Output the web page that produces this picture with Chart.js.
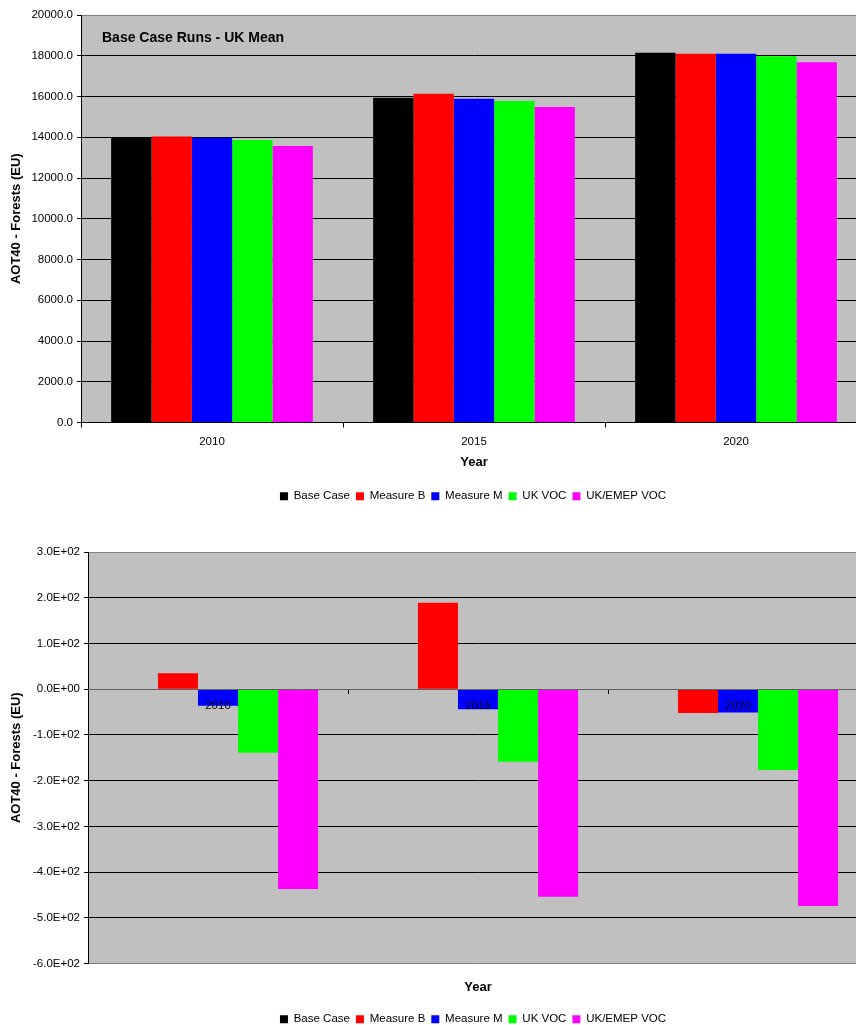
<!DOCTYPE html>
<html>
<head>
<meta charset="utf-8">
<script src="https://cdn.jsdelivr.net/npm/chart.js@4/dist/chart.umd.min.js"></script>
<style>
    html, body { margin: 0; padding: 0; background: #fff; overflow: hidden; width: 856px; height: 1025px; }
    .box { position: absolute; left: 0; width: 946px; }
    #top { top: 0; height: 512px; }
    #bottom { top: 530px; height: 505px; }
</style>
</head>
<body>
<div class="box" id="top"><canvas id="meanChart"></canvas></div>
<div class="box" id="bottom"><canvas id="diffChart"></canvas></div>
<script>
const years = ['2010', '2015', '2020'];
const seriesNames = ['Base Case', 'Measure B', 'Measure M', 'UK VOC', 'UK/EMEP VOC'];
const seriesColors = ['#000000', '#ff0000', '#0000ff', '#00ff00', '#ff00ff'];

// AOT40 UK mean
const baseCase = [14000, 15940, 18150];
const measureB = [14040, 16130, 18100];
const measureM = [13970, 15890, 18100];
const ukVoc = [13860, 15785, 17980];
const ukEmepVoc = [13570, 15490, 17680];

// differences from base case
const diffBase = [0, 0, 0];
const diffMeasureB = [35, 189, -52];
const diffMeasureM = [-36, -44, -51];
const diffUkVoc = [-139, -159, -177];
const diffUkEmepVoc = [-437, -454, -474];

const chartTitle = 'Base Case Runs - UK Mean';
const yTitle = 'AOT40 - Forests (EU)';
const xTitle = 'Year';

const FONT = '"Liberation Sans", Arial, sans-serif';

const plotBackground = {
    id: 'plotBackground',
    beforeDraw(chart) {
        const a = chart.chartArea;
        chart.ctx.save();
        chart.ctx.fillStyle = '#c0c0c0';
        chart.ctx.fillRect(a.left, a.top, a.right - a.left, a.bottom - a.top);
        chart.ctx.restore();
    }
};

const innerTitle = {
    id: 'innerTitle',
    afterDatasetsDraw(chart, args, opts) {
        if (!opts.text) return;
        const ctx = chart.ctx;
        ctx.save();
        ctx.font = 'bold 14px ' + FONT;
        ctx.fillStyle = '#000';
        ctx.textBaseline = 'middle';
        ctx.fillText(opts.text, chart.chartArea.left + 21, chart.chartArea.top + 23);
        ctx.restore();
    }
};

function makeDatasets(rows) {
    return rows.map((data, i) => ({
        label: seriesNames[i],
        data: data,
        backgroundColor: seriesColors[i],
        borderWidth: 0,
        categoryPercentage: 0.77,
        barPercentage: 1.0,
        xAxisID: 'x',
        yAxisID: 'y'
    }));
}

function sciLabel(v) {
    const parts = Number(v).toExponential(1).split('e');
    let exp = parseInt(parts[1], 10);
    const sign = exp < 0 ? '-' : '+';
    exp = Math.abs(exp);
    return parts[0] + 'E' + sign + (exp < 10 ? '0' + exp : exp);
}

// empty right-hand axis: keeps space to the right of the plot like the original sheet
function spacerAxis(w) {
    return {
        position: 'right',
        grid: { display: false },
        border: { display: false },
        ticks: { display: false },
        afterFit(scale) { scale.width = w; }
    };
}

const legendOpts = {
    position: 'bottom',
    labels: {
        color: '#000',
        boxWidth: 8,
        boxHeight: 8,
        padding: 6,
        font: { size: 11.5, family: FONT }
    }
};

new Chart(document.getElementById('meanChart'), {
    type: 'bar',
    data: {
        labels: years,
        datasets: makeDatasets([baseCase, measureB, measureM, ukVoc, ukEmepVoc])
    },
    plugins: [plotBackground, innerTitle],
    options: {
        responsive: true,
        maintainAspectRatio: false,
        animation: false,
        layout: { padding: { top: 15, right: 0, left: 0, bottom: 0 } },
        plugins: {
            legend: legendOpts,
            tooltip: { enabled: false },
            innerTitle: { text: chartTitle }
        },
        scales: {
            x: {
                grid: { offset: true, drawOnChartArea: false, tickLength: 5, color: '#000' },
                border: { color: '#000', width: 1 },
                ticks: { color: '#000', padding: 7, maxRotation: 0, font: { size: 11.5, family: FONT } },
                title: { display: true, text: xTitle, color: '#000', padding: { top: 0, bottom: 14 }, font: { size: 13, weight: 'bold', family: FONT } },
                afterFit(scale) { scale.height = 62; }
            },
            y: {
                min: 0,
                max: 20000,
                ticks: {
                    stepSize: 2000,
                    color: '#000',
                    padding: 4,
                    font: { size: 11.5, family: FONT },
                    callback: function(value) { return value.toFixed(1); }
                },
                grid: {
                    color: (c) => c.tick && c.tick.value === 20000 ? '#808080' : '#000',
                    tickColor: '#000',
                    tickLength: 4
                },
                border: { color: '#000', width: 1 },
                title: { display: true, text: yTitle, color: '#000', padding: { top: 9, bottom: 0 }, font: { size: 13, weight: 'bold', family: FONT } },
                afterFit(scale) { scale.width = 81; }
            },
            yRight: spacerAxis(79)
        }
    }
});

new Chart(document.getElementById('diffChart'), {
    type: 'bar',
    data: {
        labels: years,
        datasets: makeDatasets([diffBase, diffMeasureB, diffMeasureM, diffUkVoc, diffUkEmepVoc])
    },
    plugins: [plotBackground],
    options: {
        responsive: true,
        maintainAspectRatio: false,
        animation: false,
        layout: { padding: { top: 22, right: 0, left: 0, bottom: 0 } },
        plugins: {
            legend: legendOpts,
            tooltip: { enabled: false }
        },
        scales: {
            x: {
                position: { y: 0 },
                grid: { offset: true, drawOnChartArea: false, tickLength: 4, color: '#000' },
                border: { color: '#606060', width: 1, z: 1 },
                ticks: { color: '#000', padding: 6, z: 1, maxRotation: 0, font: { size: 11.5, family: FONT } }
            },
            x2: {
                type: 'category',
                position: 'bottom',
                grid: { display: false },
                border: { display: false },
                ticks: { display: false },
                title: { display: true, text: xTitle, color: '#000', padding: { top: 0, bottom: 12 }, font: { size: 13, weight: 'bold', family: FONT } },
                afterFit(scale) { scale.height = 44; }
            },
            y: {
                min: -600,
                max: 300,
                ticks: {
                    stepSize: 100,
                    color: '#000',
                    padding: 4,
                    font: { size: 11.5, family: FONT },
                    callback: function(value) { return sciLabel(value); }
                },
                grid: {
                    color: (c) => {
                        if (!c.tick) return '#000';
                        if (c.tick.value === 300 || c.tick.value === -600) return '#808080';
                        if (c.tick.value === 0) return '#606060';
                        return '#000';
                    },
                    tickColor: '#000',
                    tickLength: 4
                },
                border: { color: '#000', width: 1 },
                title: { display: true, text: yTitle, color: '#000', padding: { top: 9, bottom: 0 }, font: { size: 13, weight: 'bold', family: FONT } },
                afterFit(scale) { scale.width = 88; }
            },
            yRight: spacerAxis(78)
        }
    }
});
</script>
</body>
</html>
